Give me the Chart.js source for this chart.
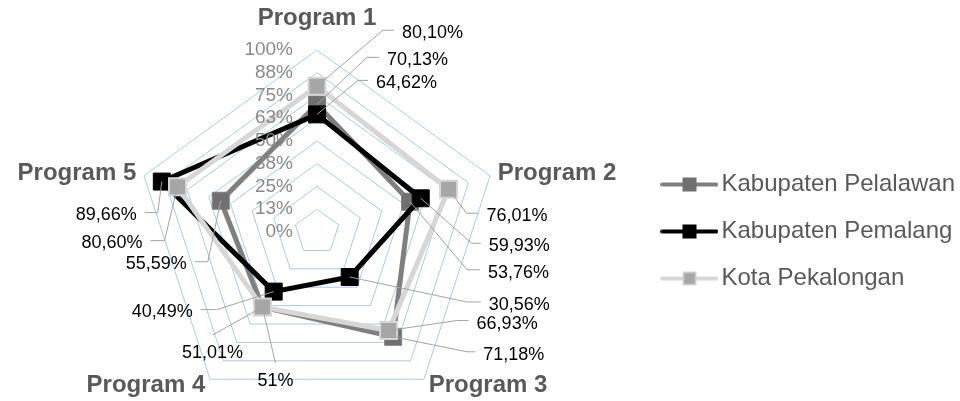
<!DOCTYPE html>
<html>
<head>
<meta charset="utf-8">
<script src="https://cdn.jsdelivr.net/npm/chart.js@4.4.1/dist/chart.umd.min.js"></script>
<style>
  html, body { margin: 0; padding: 0; background: #fff; }
  #wrap { width: 960px; height: 401px; position: relative; }
</style>
</head>
<body>
<div id="wrap"><canvas id="radar"></canvas></div>
<script>
// --- data ---
const programs = ['Program 1', 'Program 2', 'Program 3', 'Program 4', 'Program 5'];
const pelalawan = [70.13, 53.76, 71.18, 51.01, 55.59];
const pemalang = [64.62, 59.93, 30.56, 40.49, 89.66];
const pekalongan = [80.10, 76.01, 66.93, 51, 80.60];
const tickLabels = ['0%', '13%', '25%', '38%', '50%', '63%', '75%', '88%', '100%'];

// --- look ---
const FONT = '"Liberation Sans", Arial, sans-serif';
const CENTER = { x: 317, y: 232, r: 182 };

// leader lines for the value labels: [elbow dx, elbow dy, line end dx, side]
// side: 'r' text right of line, 'l' text left of line, 'b' text below the elbow
const leaders = [
  [[50, -47, 62, 'r'], [57, 68, 70, 'r'], [74, 15, 82, 'r'], [-50, 28, 0, 'b'], [-13, 61, -26, 'l']],
  [[41, -34, 51, 'r'], [51, 45, 60, 'r'], [117, 25, 131, 'r'], [-57, 18, -73, 'l'], [-4, 31, -17, 'l']],
  [[66, -56, 77, 'r'], [18, 24, 30, 'r'], [68, -10, 80, 'r'], [13, 56, 0, 'b'], [-13, 54, -27, 'l']]
];

function fmt(v) {
  return (Number.isInteger(v) ? String(v) : v.toFixed(2)).replace('.', ',') + '%';
}

function legendIcon(line, fill, border) {
  const c = document.createElement('canvas');
  c.width = 58; c.height = 18;
  const g = c.getContext('2d');
  g.strokeStyle = line; g.lineWidth = 4; g.lineCap = 'round';
  g.beginPath(); g.moveTo(2, 9); g.lineTo(56, 9); g.stroke();
  g.fillStyle = fill; g.fillRect(22, 2, 14, 14);
  if (border) { g.strokeStyle = border; g.lineWidth = 1.5; g.strokeRect(22.75, 2.75, 12.5, 12.5); }
  return c;
}
const icons = [
  legendIcon('#7f7f7f', '#707070', null),
  legendIcon('#000000', '#000000', null),
  legendIcon('#d6d6d6', '#a6a6a6', '#d6d6d6')
];

const radarDecor = {
  id: 'radarDecor',
  afterDatasetsDraw(chart) {
    const ctx = chart.ctx;
    const scale = chart.scales.r;
    ctx.save();

    // tick labels left of the top axis
    ctx.font = '19px ' + FONT;
    ctx.fillStyle = '#8a8a8a';
    ctx.textAlign = 'right';
    ctx.textBaseline = 'middle';
    scale.ticks.forEach((t, i) => {
      const p = scale.getPointPositionForValue(0, t.value);
      ctx.fillText(tickLabels[i], p.x - 24, p.y);
    });

    // program names
    ctx.font = 'bold 24px ' + FONT;
    ctx.fillStyle = '#595959';
    programs.forEach((name, i) => {
      const pad = i === 0 ? 32 : 8;
      const p = scale.getPointPosition(i, scale.drawingArea + pad);
      const dx = p.x - scale.xCenter;
      ctx.textAlign = Math.abs(dx) < 2 ? 'center' : (dx > 0 ? 'left' : 'right');
      ctx.fillText(name, p.x, p.y);
    });

    // value labels with leader lines
    ctx.font = '18px ' + FONT;
    ctx.strokeStyle = '#a3a3a3';
    ctx.lineWidth = 1;
    chart.data.datasets.forEach((ds, di) => {
      const meta = chart.getDatasetMeta(di);
      meta.data.forEach((pt, i) => {
        const [ex, ey, lx, side] = leaders[di][i];
        const x0 = pt.x, y0 = pt.y;
        const x1 = x0 + ex, y1 = y0 + ey;
        ctx.beginPath();
        ctx.moveTo(x0, y0);
        ctx.lineTo(x1, y1);
        if (side !== 'b') ctx.lineTo(x0 + lx, y1);
        ctx.stroke();
        ctx.fillStyle = '#000';
        const txt = fmt(ds.data[i]);
        if (side === 'r') {
          ctx.textAlign = 'left';
          ctx.fillText(txt, x0 + lx + 8, y1 + 3);
        } else if (side === 'l') {
          ctx.textAlign = 'right';
          ctx.fillText(txt, x0 + lx - 8, y1 + 2);
        } else {
          ctx.textAlign = 'center';
          ctx.fillText(txt, x1, y1 + 18);
        }
      });
    });
    ctx.restore();
  }
};

new Chart(document.getElementById('radar'), {
  type: 'radar',
  data: {
    labels: programs,
    datasets: [
      {
        label: 'Kabupaten Pelalawan', data: pelalawan, order: 3,
        borderColor: '#7f7f7f', borderWidth: 5, fill: false,
        pointStyle: 'rect', pointRadius: 12, pointBorderWidth: 1,
        pointBackgroundColor: '#707070', pointBorderColor: '#7f7f7f'
      },
      {
        label: 'Kabupaten Pemalang', data: pemalang, order: 2,
        borderColor: '#000000', borderWidth: 5, fill: false,
        pointStyle: 'rect', pointRadius: 12, pointBorderWidth: 1,
        pointBackgroundColor: '#000000', pointBorderColor: '#000000'
      },
      {
        label: 'Kota Pekalongan', data: pekalongan, order: 1,
        borderColor: '#d6d6d6', borderWidth: 5, fill: false,
        pointStyle: 'rect', pointRadius: 12, pointBorderWidth: 2,
        pointBackgroundColor: '#a6a6a6', pointBorderColor: '#d6d6d6'
      }
    ]
  },
  options: {
    responsive: true,
    maintainAspectRatio: false,
    animation: false,
    devicePixelRatio: 1,
    layout: { padding: { top: 62, right: -5 } },
    elements: { line: { borderJoinStyle: 'round', tension: 0 } },
    scales: {
      r: {
        min: 0, max: 100,
        ticks: { display: false, stepSize: 12.5 },
        grid: { color: '#a9c9ec', lineWidth: 1 },
        angleLines: { display: false },
        pointLabels: { display: false },
        afterFit(s) {
          s.xCenter = CENTER.x;
          s.yCenter = CENTER.y;
          s.drawingArea = CENTER.r;
        }
      }
    },
    plugins: {
      tooltip: { enabled: false },
      legend: {
        position: 'right',
        labels: {
          color: '#595959',
          font: { family: FONT, size: 24 },
          usePointStyle: true,
          pointStyleWidth: 40,
          padding: 23,
          generateLabels(chart) {
            const items = Chart.defaults.plugins.legend.labels.generateLabels(chart);
            items.sort((a, b) => a.datasetIndex - b.datasetIndex);
            items.forEach(it => { it.pointStyle = icons[it.datasetIndex]; });
            return items;
          }
        }
      }
    }
  },
  plugins: [radarDecor]
});
</script>
</body>
</html>
